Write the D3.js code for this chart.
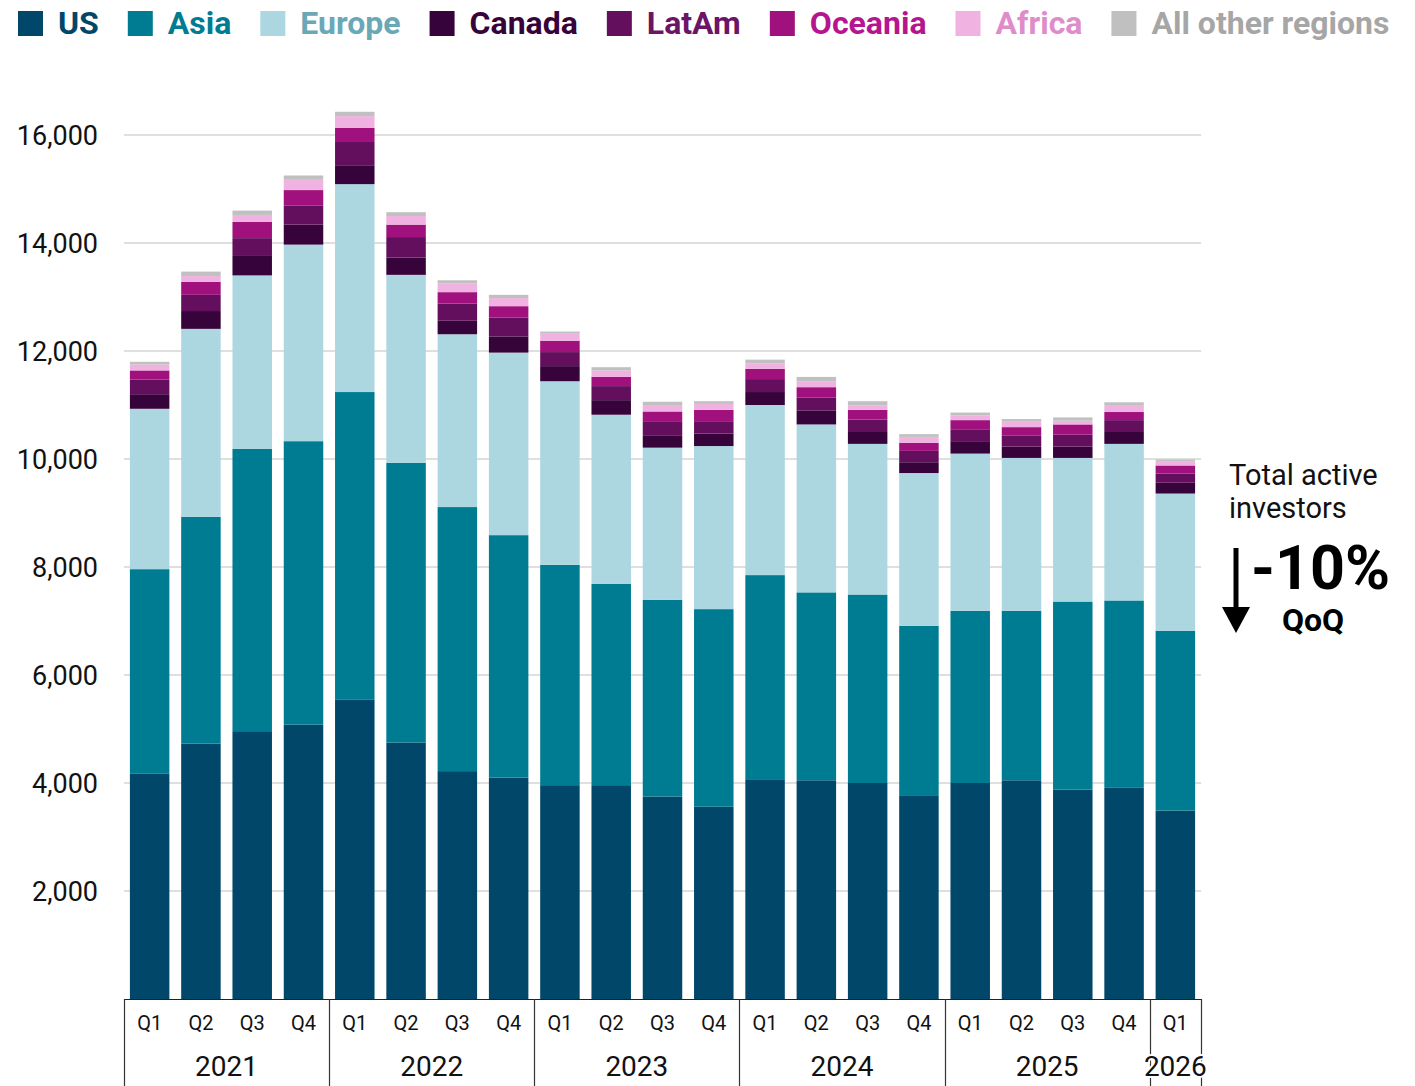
<!DOCTYPE html>
<html>
<head>
<meta charset="utf-8">
<script src="https://cdn.jsdelivr.net/npm/d3@7"></script>
<style>
  html, body { margin: 0; padding: 0; background: #fff; }
  svg { display: block; font-family: Roboto, "Noto Sans", sans-serif; }
</style>
</head>
<body>
<svg id="chart" width="1415" height="1086"></svg>
<script>
// ---------- DATA ----------
const quarters = ["Q1","Q2","Q3","Q4","Q1","Q2","Q3","Q4","Q1","Q2","Q3","Q4","Q1","Q2","Q3","Q4","Q1","Q2","Q3","Q4","Q1"];
const years    = ["2021","2021","2021","2021","2022","2022","2022","2022","2023","2023","2023","2023","2024","2024","2024","2024","2025","2025","2025","2025","2026"];

const seriesNames = ["US","Asia","Europe","Canada","LatAm","Oceania","Africa","All other regions"];

const us      = [4170,4730,4960,5080,5540,4750,4220,4100,3960,3960,3750,3560,4070,4050,4000,3760,4000,4050,3880,3910,3490];
const asia    = [3790,4200,5230,5250,5700,5180,4890,4490,4080,3730,3640,3660,3780,3480,3490,3150,3190,3140,3480,3470,3330];
const europe  = [2970,3480,3210,3640,3850,3480,3200,3380,3400,3130,2820,3020,3150,3110,2790,2830,2910,2830,2660,2900,2540];
const canada  = [270,330,360,370,350,320,250,300,280,270,230,230,240,260,220,200,230,210,210,220,200];
const latam   = [270,300,330,350,430,380,320,350,260,260,260,230,240,240,230,210,210,200,220,220,170];
const oceania = [170,240,300,290,260,230,210,210,210,170,180,210,190,190,180,150,180,160,190,150,150];
const africa  = [110,110,130,190,220,160,160,150,130,120,120,110,100,110,80,110,90,100,70,130,80];
const other   = [50,80,80,80,80,70,60,60,40,60,60,50,70,80,80,50,50,50,60,50,30];

const yTicks = [2000,4000,6000,8000,10000,12000,14000,16000];

const fillColors  = ["#00476a","#007c92","#acd7e0","#36043a","#640f5e","#a0117e","#f0b2e0","#c0c0c0"];
const labelColors = ["#00476a","#007c92","#6aa8b6","#36043a","#6b1468","#b5168f","#e08ccb","#a6a6a6"];

// ---------- BUILD TABLE ----------
const seriesValues = [us, asia, europe, canada, latam, oceania, africa, other];
const table = quarters.map((q, i) => {
  const row = { idx: i, q: q, year: years[i] };
  seriesNames.forEach((s, k) => row[s] = seriesValues[k][i]);
  return row;
});

const svg = d3.select("#chart");

const x = d3.scaleBand()
  .domain(table.map(d => d.idx))
  .range([124, 1201])
  .paddingInner(0.23)
  .paddingOuter(0.115);

const y = d3.scaleLinear().domain([0, 16000]).range([999, 135]);

// gridlines
svg.append("g")
  .selectAll("line")
  .data(yTicks)
  .join("line")
  .attr("x1", 124).attr("x2", 1201)
  .attr("y1", d => y(d)).attr("y2", d => y(d))
  .attr("stroke", "#d4d4d4").attr("stroke-width", 1.3);

// y axis labels
const yAxis = d3.axisLeft(y).tickValues(yTicks).tickFormat(d3.format(",")).tickSize(0).tickPadding(0);
const yg = svg.append("g").attr("transform", "translate(98,0)").call(yAxis);
yg.select(".domain").remove();
yg.selectAll("text")
  .attr("font-family", "Roboto, sans-serif")
  .attr("font-size", 27)
  .attr("fill", "#111")
  .attr("dy", "0.35em");

// stacked bars
const stack = d3.stack().keys(seriesNames);
const stacked = stack(table);

svg.append("g")
  .selectAll("g")
  .data(stacked)
  .join("g")
  .attr("fill", (d, i) => fillColors[i])
  .selectAll("rect")
  .data(d => d)
  .join("rect")
  .attr("x", d => x(d.data.idx))
  .attr("width", x.bandwidth())
  .attr("y", d => y(d[1]))
  .attr("height", d => y(d[0]) - y(d[1]));

// x axis baseline
svg.append("line")
  .attr("x1", 124).attr("x2", 1201)
  .attr("y1", 999.5).attr("y2", 999.5)
  .attr("stroke", "#222").attr("stroke-width", 1.2);

// quarter labels
svg.append("g")
  .selectAll("text")
  .data(table)
  .join("text")
  .attr("x", d => x(d.idx) + x.bandwidth() / 2)
  .attr("y", 1030)
  .attr("text-anchor", "middle")
  .attr("font-size", 20)
  .attr("fill", "#111")
  .text(d => d.q);

// year groups
const step = x.step();
const gap = step - x.bandwidth();
const yearGroups = d3.groups(table, d => d.year).map(([yr, rows]) => {
  const first = rows[0].idx, last = rows[rows.length - 1].idx;
  return {
    year: yr,
    x0: x(first) - gap / 2,
    x1: x(last) + x.bandwidth() + gap / 2
  };
});

const boundaries = [yearGroups[0].x0].concat(yearGroups.map(g => g.x1));
svg.append("g")
  .selectAll("line")
  .data(boundaries)
  .join("line")
  .attr("x1", d => Math.round(d) + 0.5).attr("x2", d => Math.round(d) + 0.5)
  .attr("y1", 999).attr("y2", 1086)
  .attr("stroke", "#333").attr("stroke-width", 1.2);

svg.append("g")
  .selectAll("text")
  .data(yearGroups)
  .join("text")
  .attr("x", d => (d.x0 + d.x1) / 2)
  .attr("y", 1076)
  .attr("text-anchor", "middle")
  .attr("font-size", 28)
  .attr("fill", "#111")
  .attr("stroke", "#fff")
  .attr("stroke-width", 4)
  .attr("paint-order", "stroke")
  .text(d => d.year);

// legend
const legend = svg.append("g").attr("transform", "translate(18,0)");
let lx = 0;
seriesNames.forEach((name, i) => {
  const g = legend.append("g").attr("transform", `translate(${lx},0)`);
  g.append("rect")
    .attr("x", 0).attr("y", 11)
    .attr("width", 25).attr("height", 25)
    .attr("fill", fillColors[i]);
  const t = g.append("text")
    .attr("x", 40).attr("y", 34)
    .attr("font-size", 32)
    .attr("font-weight", "bold")
    .attr("fill", labelColors[i])
    .text(name);
  const w = t.node().getComputedTextLength();
  lx += 40 + w + 29;
});

// annotation
const ann = svg.append("g");
ann.append("text")
  .attr("x", 1229).attr("y", 485)
  .attr("font-size", 29).attr("fill", "#111")
  .text("Total active");
ann.append("text")
  .attr("x", 1229).attr("y", 518)
  .attr("font-size", 29).attr("fill", "#111")
  .text("investors");
ann.append("line")
  .attr("x1", 1236).attr("x2", 1236)
  .attr("y1", 548).attr("y2", 612)
  .attr("stroke", "#000").attr("stroke-width", 5);
ann.append("path")
  .attr("d", "M1222,607 L1250,607 L1236,633 Z")
  .attr("fill", "#000");
ann.append("text")
  .attr("x", 1251).attr("y", 589)
  .attr("font-size", 61).attr("font-weight", "bold").attr("fill", "#000")
  .text("-10%");
ann.append("text")
  .attr("x", 1313).attr("y", 631)
  .attr("text-anchor", "middle")
  .attr("font-size", 32).attr("font-weight", "bold").attr("fill", "#000")
  .text("QoQ");
</script>
</body>
</html>
